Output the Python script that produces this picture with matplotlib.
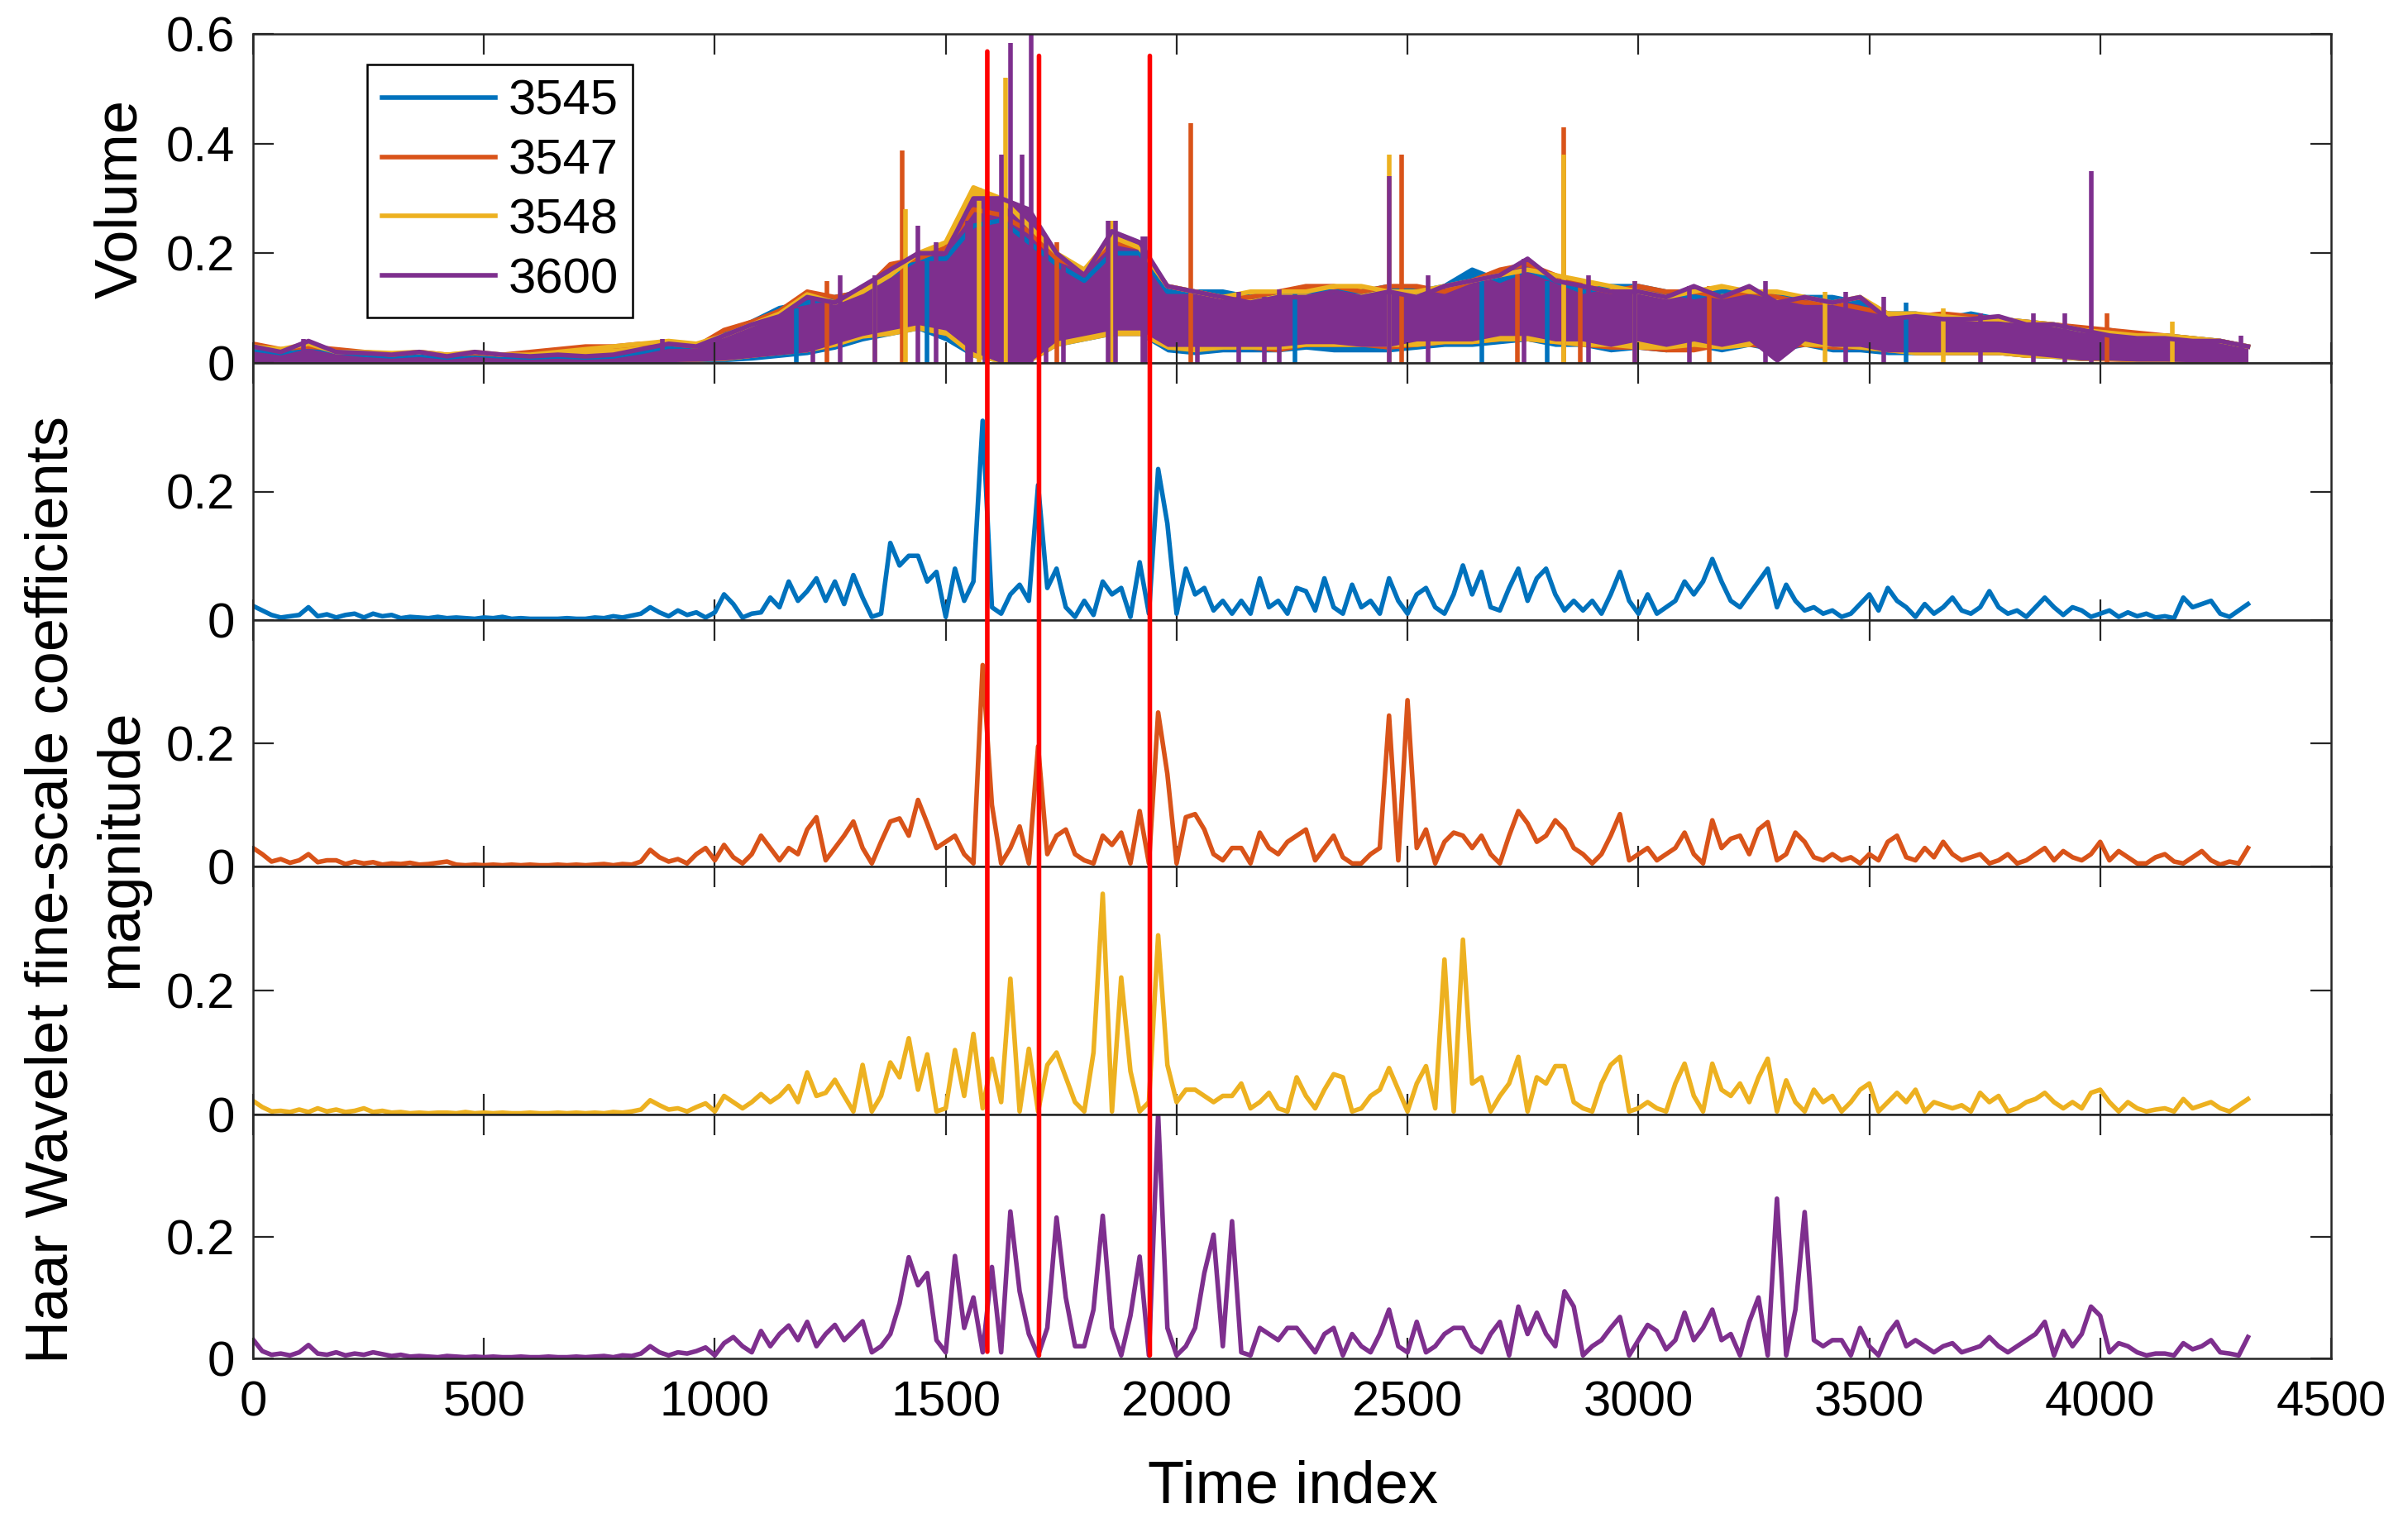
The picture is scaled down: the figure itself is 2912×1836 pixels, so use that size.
import numpy as np
import matplotlib
matplotlib.use("Agg")
from matplotlib import pyplot as plt
from matplotlib.patches import ConnectionPatch
from matplotlib.ticker import FormatStrFormatter

plt.rcParams['font.family'] = ['Liberation Sans', 'DejaVu Sans']

names = ['3545', '3547', '3548', '3600']
colors = ['#0072BD', '#D95319', '#EDB120', '#7E2F8E']

# ---- top panel: volume, upper / lower envelope every 60 time steps ----
vol_step = 60
vol_hi_3545 = [0.025, 0.018, 0.03, 0.02, 0.015, 0.012, 0.015, 0.01, 0.015, 0.012,
               0.01, 0.012, 0.01, 0.012, 0.02, 0.03, 0.03, 0.055, 0.075, 0.1,
               0.11, 0.12, 0.13, 0.16, 0.19, 0.19, 0.25, 0.26, 0.22, 0.18,
               0.15, 0.2, 0.2, 0.13, 0.13, 0.13, 0.12, 0.13, 0.13, 0.13,
               0.13, 0.14, 0.13, 0.14, 0.17, 0.15, 0.17, 0.15, 0.13, 0.14,
               0.14, 0.13, 0.12, 0.13, 0.13, 0.12, 0.12, 0.12, 0.11, 0.09,
               0.09, 0.08, 0.09, 0.08, 0.075, 0.07, 0.06, 0.06, 0.05, 0.05,
               0.045, 0.04, 0.03]
vol_lo_3545 = [0.0, 0.001, 0.001, 0.001, 0.001, 0.0, 0.0, 0.0, 0.0, 0.0,
               0.0, 0.0, 0.0, 0.0, 0.001, 0.001, 0.002, 0.002, 0.005, 0.01,
               0.015, 0.025, 0.04, 0.05, 0.06, 0.04, 0.01, 0.0, 0.0, 0.03,
               0.04, 0.05, 0.05, 0.02, 0.015, 0.02, 0.02, 0.02, 0.025, 0.02,
               0.02, 0.02, 0.025, 0.03, 0.03, 0.035, 0.04, 0.03, 0.03, 0.02,
               0.025, 0.02, 0.03, 0.02, 0.03, 0.02, 0.03, 0.02, 0.02, 0.015,
               0.015, 0.015, 0.015, 0.015, 0.01, 0.008, 0.004, 0.004, 0.002, 0.002,
               0.001, 0.001, 0.001]
vol_hi_3547 = [0.035, 0.025, 0.03, 0.025, 0.02, 0.015, 0.02, 0.015, 0.018, 0.015,
               0.02, 0.025, 0.03, 0.03, 0.035, 0.035, 0.03, 0.06, 0.075, 0.095,
               0.13, 0.12, 0.13, 0.18, 0.19, 0.21, 0.28, 0.27, 0.24, 0.19,
               0.17, 0.22, 0.21, 0.14, 0.13, 0.12, 0.12, 0.13, 0.14, 0.14,
               0.13, 0.14, 0.14, 0.13, 0.15, 0.17, 0.18, 0.16, 0.14, 0.13,
               0.14, 0.13, 0.13, 0.12, 0.13, 0.12, 0.11, 0.11, 0.1, 0.09,
               0.085, 0.09, 0.085, 0.08, 0.075, 0.07, 0.065, 0.06, 0.055, 0.05,
               0.045, 0.04, 0.03]
vol_lo_3547 = [0.0, 0.002, 0.002, 0.002, 0.002, 0.001, 0.001, 0.001, 0.001, 0.001,
               0.001, 0.001, 0.001, 0.002, 0.002, 0.002, 0.003, 0.005, 0.01, 0.02,
               0.02, 0.03, 0.05, 0.06, 0.07, 0.05, 0.02, 0.0, 0.0, 0.03,
               0.045, 0.05, 0.05, 0.03, 0.025, 0.025, 0.025, 0.02, 0.03, 0.03,
               0.03, 0.025, 0.03, 0.035, 0.035, 0.04, 0.04, 0.035, 0.03, 0.025,
               0.025, 0.02, 0.02, 0.03, 0.03, 0.025, 0.03, 0.025, 0.025, 0.02,
               0.015, 0.015, 0.015, 0.015, 0.01, 0.01, 0.004, 0.003, 0.002, 0.002,
               0.001, 0.001, 0.001]
vol_hi_3548 = [0.03, 0.025, 0.035, 0.02, 0.02, 0.018, 0.02, 0.015, 0.02, 0.015,
               0.015, 0.02, 0.025, 0.03, 0.035, 0.04, 0.035, 0.05, 0.07, 0.09,
               0.125, 0.11, 0.13, 0.16, 0.2, 0.22, 0.32, 0.3, 0.25, 0.2,
               0.17, 0.23, 0.21, 0.14, 0.13, 0.12, 0.13, 0.13, 0.13, 0.14,
               0.14, 0.13, 0.13, 0.14, 0.15, 0.16, 0.17, 0.16, 0.15, 0.14,
               0.13, 0.12, 0.13, 0.14, 0.13, 0.13, 0.12, 0.11, 0.12, 0.09,
               0.09, 0.085, 0.08, 0.08, 0.075, 0.07, 0.06, 0.055, 0.05, 0.05,
               0.045, 0.04, 0.03]
vol_lo_3548 = [0.0, 0.002, 0.002, 0.002, 0.002, 0.001, 0.001, 0.001, 0.001, 0.001,
               0.001, 0.001, 0.001, 0.002, 0.002, 0.002, 0.003, 0.004, 0.01, 0.015,
               0.02, 0.03, 0.045, 0.05, 0.06, 0.05, 0.01, 0.0, 0.0, 0.03,
               0.04, 0.05, 0.05, 0.025, 0.02, 0.025, 0.025, 0.025, 0.03, 0.03,
               0.03, 0.03, 0.03, 0.035, 0.035, 0.04, 0.04, 0.035, 0.03, 0.03,
               0.025, 0.025, 0.03, 0.025, 0.03, 0.06, 0.03, 0.03, 0.025, 0.02,
               0.015, 0.015, 0.015, 0.015, 0.01, 0.008, 0.004, 0.004, 0.002, 0.002,
               0.001, 0.001, 0.001]
vol_hi_3600 = [0.03, 0.02, 0.04, 0.02, 0.018, 0.015, 0.02, 0.012, 0.02, 0.015,
               0.012, 0.015, 0.012, 0.015, 0.025, 0.035, 0.03, 0.05, 0.07, 0.085,
               0.12, 0.11, 0.14, 0.17, 0.2, 0.2, 0.3, 0.3, 0.28, 0.2,
               0.16, 0.24, 0.22, 0.14, 0.13, 0.12, 0.11, 0.12, 0.12, 0.13,
               0.12, 0.13, 0.12, 0.14, 0.15, 0.16, 0.19, 0.15, 0.14, 0.13,
               0.13, 0.12, 0.14, 0.12, 0.14, 0.11, 0.12, 0.11, 0.12, 0.08,
               0.085, 0.08, 0.08, 0.085, 0.07, 0.07, 0.06, 0.05, 0.045, 0.045,
               0.04, 0.04, 0.03]
vol_lo_3600 = [0.0, 0.002, 0.002, 0.002, 0.002, 0.001, 0.001, 0.001, 0.001, 0.001,
               0.001, 0.001, 0.001, 0.001, 0.002, 0.002, 0.003, 0.005, 0.01, 0.015,
               0.02, 0.035, 0.05, 0.06, 0.07, 0.06, 0.02, 0.0, 0.0, 0.04,
               0.05, 0.06, 0.06, 0.03, 0.03, 0.03, 0.03, 0.03, 0.035, 0.035,
               0.03, 0.03, 0.04, 0.04, 0.04, 0.05, 0.05, 0.04, 0.04, 0.03,
               0.04, 0.03, 0.04, 0.03, 0.04, 0.0, 0.04, 0.03, 0.03, 0.02,
               0.02, 0.02, 0.02, 0.02, 0.015, 0.01, 0.005, 0.005, 0.003, 0.003,
               0.002, 0.002, 0.002]

# isolated volume spikes (time index, value)
spike_t_3545 = [1176, 1460, 1590, 2256, 2661, 2803, 3579]
spike_v_3545 = [0.1, 0.2, 0.25, 0.13, 0.16, 0.15, 0.11]
spike_t_3547 = [1243, 1406, 1741, 2030, 2488, 2738, 2838, 2874, 3154, 4015]
spike_v_3547 = [0.15, 0.388, 0.22, 0.437, 0.38, 0.17, 0.43, 0.15, 0.14, 0.09]
spike_t_3548 = [1347, 1413, 1572, 1629, 1859, 2460, 2838, 2992, 3404, 3660, 4157]
spike_v_3548 = [0.16, 0.28, 0.32, 0.52, 0.26, 0.38, 0.38, 0.15, 0.13, 0.1, 0.075]
spike_t_3600 = [110, 886, 1213, 1272, 1347, 1440, 1480, 1547, 1555, 1584, 1621, 1641,
                1666, 1685, 1718, 1755, 1852, 1867, 1926, 1933, 2045, 2134, 2190,
                2223, 2460, 2545, 2753, 2892, 2992, 3111, 3275, 3448, 3532, 3741,
                3856, 3923, 3980, 4304]
spike_v_3600 = [0.044, 0.044, 0.12, 0.16, 0.16, 0.25, 0.22, 0.26, 0.26, 0.3, 0.38, 0.584,
                0.38, 0.6, 0.23, 0.18, 0.26, 0.26, 0.23, 0.23, 0.115, 0.13, 0.12,
                0.134, 0.34, 0.16, 0.19, 0.16, 0.15, 0.14, 0.15, 0.13, 0.12, 0.09,
                0.09, 0.09, 0.35, 0.05]

# ---- Haar wavelet fine-scale coefficient magnitude, every 20 time steps ----
wav_step = 20
wav_3545 = [0.022, 0.015, 0.008, 0.004, 0.006, 0.008, 0.02, 0.006, 0.009, 0.004,      # 0
            0.008, 0.01, 0.004, 0.01, 0.006, 0.008, 0.003, 0.005, 0.004, 0.003,       # 200
            0.005, 0.003, 0.004, 0.003, 0.002, 0.004, 0.003, 0.005, 0.002, 0.003,     # 400
            0.002, 0.002, 0.002, 0.002, 0.003, 0.002, 0.002, 0.004, 0.003, 0.006,     # 600
            0.004, 0.007, 0.01, 0.02, 0.012, 0.006, 0.015, 0.008, 0.012, 0.004,       # 800
            0.012, 0.04, 0.025, 0.004, 0.01, 0.012, 0.035, 0.02, 0.06, 0.03,          # 1000
            0.045, 0.065, 0.03, 0.06, 0.025, 0.07, 0.035, 0.005, 0.01, 0.12,          # 1200
            0.085, 0.1, 0.1, 0.06, 0.075, 0.005, 0.08, 0.03, 0.06, 0.31,              # 1400
            0.02, 0.01, 0.04, 0.055, 0.03, 0.21, 0.05, 0.08, 0.02, 0.005,             # 1600
            0.03, 0.008, 0.06, 0.04, 0.05, 0.005, 0.09, 0.01, 0.235, 0.15,            # 1800
            0.01, 0.08, 0.04, 0.05, 0.015, 0.03, 0.01, 0.03, 0.01, 0.065,             # 2000
            0.02, 0.03, 0.01, 0.05, 0.045, 0.015, 0.065, 0.02, 0.01, 0.055,           # 2200
            0.02, 0.03, 0.01, 0.065, 0.03, 0.01, 0.04, 0.05, 0.02, 0.01,              # 2400
            0.04, 0.085, 0.04, 0.075, 0.02, 0.015, 0.05, 0.08, 0.03, 0.065,           # 2600
            0.08, 0.04, 0.015, 0.03, 0.015, 0.03, 0.01, 0.04, 0.075, 0.03,            # 2800
            0.01, 0.04, 0.01, 0.02, 0.03, 0.06, 0.04, 0.06, 0.095, 0.06,              # 3000
            0.03, 0.02, 0.04, 0.06, 0.08, 0.02, 0.055, 0.03, 0.015, 0.02,             # 3200
            0.01, 0.015, 0.005, 0.01, 0.025, 0.04, 0.015, 0.05, 0.03, 0.02,           # 3400
            0.005, 0.025, 0.01, 0.02, 0.035, 0.015, 0.01, 0.02, 0.045, 0.02,          # 3600
            0.01, 0.015, 0.005, 0.02, 0.035, 0.02, 0.008, 0.02, 0.015, 0.005,         # 3800
            0.01, 0.015, 0.005, 0.012, 0.006, 0.01, 0.004, 0.006, 0.003, 0.035,       # 4000
            0.02, 0.025, 0.03, 0.01, 0.005, 0.015, 0.025]                             # 4200
wav_3547 = [0.03, 0.02, 0.008, 0.012, 0.006, 0.01, 0.02, 0.007, 0.01, 0.01,
            0.004, 0.008, 0.005, 0.007, 0.003, 0.005, 0.004, 0.006, 0.003, 0.004,
            0.006, 0.008, 0.003, 0.002, 0.003, 0.002, 0.003, 0.002, 0.003, 0.002,
            0.003, 0.002, 0.002, 0.003, 0.002, 0.003, 0.002, 0.003, 0.004, 0.002,
            0.004, 0.003, 0.008, 0.027, 0.015, 0.008, 0.012, 0.005, 0.02, 0.03,
            0.01, 0.035, 0.015, 0.005, 0.02, 0.05, 0.03, 0.01, 0.03, 0.02,
            0.06, 0.08, 0.01, 0.03, 0.05, 0.073, 0.03, 0.005, 0.04, 0.073,
            0.078, 0.05, 0.108, 0.07, 0.03, 0.04, 0.05, 0.02, 0.005, 0.327,
            0.1, 0.005, 0.03, 0.065, 0.005, 0.195, 0.02, 0.05, 0.06, 0.02,
            0.01, 0.005, 0.05, 0.035, 0.055, 0.005, 0.09, 0.005, 0.25, 0.15,
            0.005, 0.08, 0.085, 0.06, 0.02, 0.01, 0.03, 0.03, 0.005, 0.055,
            0.03, 0.02, 0.04, 0.05, 0.06, 0.01, 0.03, 0.05, 0.015, 0.005,
            0.005, 0.02, 0.03, 0.245, 0.01, 0.27, 0.03, 0.06, 0.005, 0.04,
            0.055, 0.05, 0.03, 0.05, 0.02, 0.005, 0.05, 0.09, 0.07, 0.04,
            0.05, 0.075, 0.06, 0.03, 0.02, 0.005, 0.02, 0.05, 0.085, 0.01,
            0.02, 0.03, 0.01, 0.02, 0.03, 0.055, 0.02, 0.005, 0.075, 0.03,
            0.045, 0.05, 0.02, 0.06, 0.072, 0.01, 0.02, 0.055, 0.04, 0.015,
            0.01, 0.02, 0.01, 0.015, 0.005, 0.02, 0.01, 0.04, 0.05, 0.015,
            0.01, 0.03, 0.015, 0.04, 0.02, 0.01, 0.015, 0.02, 0.005, 0.01,
            0.02, 0.005, 0.01, 0.02, 0.03, 0.01, 0.025, 0.015, 0.01, 0.02,
            0.04, 0.01, 0.025, 0.015, 0.005, 0.005, 0.015, 0.02, 0.008, 0.005,
            0.015, 0.025, 0.01, 0.003, 0.008, 0.005, 0.03]
wav_3548 = [0.022, 0.012, 0.005, 0.006, 0.004, 0.008, 0.004, 0.01, 0.005, 0.008,
            0.004, 0.006, 0.01, 0.004, 0.006, 0.003, 0.004, 0.002, 0.003, 0.002,
            0.003, 0.003, 0.002, 0.004, 0.002, 0.003, 0.002, 0.003, 0.002, 0.002,
            0.003, 0.002, 0.002, 0.003, 0.002, 0.003, 0.002, 0.003, 0.002, 0.004,
            0.003, 0.005, 0.008, 0.023, 0.015, 0.008, 0.01, 0.005, 0.012, 0.018,
            0.005, 0.03, 0.02, 0.01, 0.02, 0.033, 0.02, 0.03, 0.046, 0.02,
            0.068, 0.03, 0.035, 0.056, 0.03, 0.005, 0.08, 0.005, 0.03, 0.084,
            0.06, 0.123, 0.04, 0.097, 0.005, 0.01, 0.104, 0.03, 0.13, 0.01,
            0.09, 0.02, 0.219, 0.005, 0.106, 0.005, 0.08, 0.1, 0.06, 0.02,
            0.005, 0.1, 0.356, 0.005, 0.221, 0.07, 0.005, 0.02, 0.289, 0.08,
            0.02, 0.04, 0.04, 0.03, 0.02, 0.03, 0.03, 0.05, 0.01, 0.02,
            0.035, 0.01, 0.005, 0.06, 0.03, 0.01, 0.04, 0.065, 0.06, 0.005,
            0.01, 0.03, 0.04, 0.075, 0.04, 0.005, 0.05, 0.078, 0.01, 0.25,
            0.005, 0.282, 0.05, 0.06, 0.005, 0.03, 0.05, 0.093, 0.005, 0.06,
            0.05, 0.078, 0.078, 0.02, 0.01, 0.005, 0.05, 0.08, 0.093, 0.005,
            0.01, 0.02, 0.01, 0.005, 0.05, 0.082, 0.03, 0.005, 0.082, 0.04,
            0.03, 0.05, 0.02, 0.06, 0.09, 0.005, 0.055, 0.02, 0.005, 0.04,
            0.02, 0.03, 0.005, 0.02, 0.04, 0.05, 0.005, 0.02, 0.035, 0.02,
            0.04, 0.005, 0.02, 0.015, 0.01, 0.015, 0.005, 0.035, 0.02, 0.03,
            0.005, 0.01, 0.02, 0.025, 0.035, 0.02, 0.01, 0.02, 0.01, 0.035,
            0.04, 0.02, 0.005, 0.02, 0.01, 0.005, 0.008, 0.01, 0.005, 0.025,
            0.01, 0.015, 0.02, 0.01, 0.005, 0.015, 0.025]
wav_3600 = [0.031, 0.012, 0.006, 0.008, 0.005, 0.01, 0.022, 0.008, 0.006, 0.01,
            0.005, 0.008, 0.006, 0.01, 0.007, 0.004, 0.006, 0.003, 0.004, 0.003,
            0.002, 0.004, 0.003, 0.002, 0.003, 0.002, 0.003, 0.002, 0.002, 0.003,
            0.002, 0.002, 0.003, 0.002, 0.002, 0.003, 0.002, 0.003, 0.004, 0.002,
            0.005, 0.004, 0.008, 0.02, 0.01, 0.005, 0.01, 0.008, 0.012, 0.018,
            0.005, 0.025, 0.035, 0.02, 0.01, 0.045, 0.02, 0.04, 0.054, 0.03,
            0.06, 0.02, 0.04, 0.055, 0.03, 0.045, 0.061, 0.01, 0.02, 0.04,
            0.09, 0.166, 0.12, 0.14, 0.03, 0.01, 0.168, 0.05, 0.1, 0.01,
            0.15, 0.01, 0.241, 0.11, 0.04, 0.005, 0.05, 0.231, 0.1, 0.02,
            0.02, 0.08, 0.234, 0.05, 0.005, 0.07, 0.167, 0.005, 0.4, 0.05,
            0.005, 0.02, 0.05, 0.14, 0.203, 0.02, 0.225, 0.01, 0.005, 0.05,
            0.04, 0.03, 0.05, 0.05, 0.03, 0.01, 0.04, 0.05, 0.005, 0.04,
            0.02, 0.01, 0.04, 0.08, 0.02, 0.01, 0.06, 0.01, 0.02, 0.04,
            0.05, 0.05, 0.02, 0.01, 0.04, 0.06, 0.005, 0.085, 0.04, 0.075,
            0.04, 0.02, 0.11, 0.085, 0.005, 0.02, 0.03, 0.05, 0.068, 0.005,
            0.03, 0.055, 0.045, 0.015, 0.03, 0.075, 0.03, 0.05, 0.08, 0.03,
            0.04, 0.005, 0.06, 0.1, 0.005, 0.262, 0.005, 0.08, 0.24, 0.03,
            0.02, 0.03, 0.03, 0.005, 0.05, 0.02, 0.005, 0.04, 0.06, 0.02,
            0.03, 0.02, 0.01, 0.02, 0.025, 0.01, 0.015, 0.02, 0.035, 0.02,
            0.01, 0.02, 0.03, 0.04, 0.06, 0.005, 0.045, 0.02, 0.04, 0.085,
            0.07, 0.01, 0.025, 0.02, 0.01, 0.005, 0.008, 0.008, 0.005, 0.025,
            0.015, 0.02, 0.03, 0.01, 0.008, 0.005, 0.035]

# red markers across all panels
red_t = [1590, 1702, 1942]
red_top = [0.568, 0.56, 0.56]
red_bottom = [0.011, 0.005, 0.005]

W, H = 2912, 1836
fig = plt.figure(figsize=(W / 200, H / 200), dpi=200)

x_left, x_right = 306, 2819
edges = [41, 439, 750, 1048, 1348, 1643]
frame_col = '#262626'
lw_data = 2.0

axes = []
for i in range(5):
	top, bot = edges[i], edges[i + 1]
	ax = fig.add_axes([x_left / W, 1 - bot / H, (x_right - x_left) / W, (bot - top) / H])
	ax.set_xlim(0, 4500)
	ax.set_xticks(np.arange(0, 4501, 500))
	ax.xaxis.set_major_formatter(FormatStrFormatter('%g'))
	ax.yaxis.set_major_formatter(FormatStrFormatter('%g'))
	ax.tick_params(direction='in', top=True, right=True, length=9, width=0.8,
				   labelsize=21.5, colors=frame_col, labelcolor='black')
	ax.tick_params(axis='x', pad=9.5)
	ax.tick_params(axis='y', pad=8)
	for s in ax.spines.values():
		s.set_linewidth(0.9)
		s.set_color(frame_col)
	if i < 4:
		ax.tick_params(labelbottom=False)
	axes.append(ax)

# top panel
ax = axes[0]
ax.set_ylim(0, 0.6)
ax.set_yticks([0, 0.2, 0.4, 0.6])
vol_hi = [vol_hi_3545, vol_hi_3547, vol_hi_3548, vol_hi_3600]
vol_lo = [vol_lo_3545, vol_lo_3547, vol_lo_3548, vol_lo_3600]
spike_t = [spike_t_3545, spike_t_3547, spike_t_3548, spike_t_3600]
spike_v = [spike_v_3545, spike_v_3547, spike_v_3548, spike_v_3600]
for name, c, hi, lo, st, sv in zip(names, colors, vol_hi, vol_lo, spike_t, spike_v):
	t = vol_step * np.arange(len(hi))
	ax.fill_between(t, lo, hi, color=c, lw=0)
	ax.plot(t, hi, color=c, lw=lw_data, label=name)
	ax.vlines(st, 0, sv, color=c, lw=lw_data)

leg = ax.legend(loc='upper left', bbox_to_anchor=((444 - 306) / 2513, (439 - 78) / 398),
				fontsize=21.5, frameon=True, fancybox=False, framealpha=1, edgecolor='black',
				handlelength=2.3, handletextpad=0.25, labelspacing=0.28, borderpad=0.3,
				borderaxespad=0)
leg.get_frame().set_linewidth(0.9)

# wavelet panels
wav = [wav_3545, wav_3547, wav_3548, wav_3600]
for ax, c, w in zip(axes[1:], colors, wav):
	t = wav_step * np.arange(len(w))
	ax.plot(t, w, color=c, lw=lw_data)
	ax.set_ylim(0, 0.4)
	ax.set_yticks([0, 0.2])

for t, yt, yb in zip(red_t, red_top, red_bottom):
	con = ConnectionPatch(xyA=(t, yt), coordsA=axes[0].transData,
						  xyB=(t, yb), coordsB=axes[4].transData,
						  color='red', lw=2.0)
	fig.add_artist(con)

fig.text(165 / W, 1 - 240 / H, 'Volume', rotation=90, rotation_mode='anchor',
		 ha='center', va='baseline', fontsize=26)
fig.text(82 / W, 1 - 1076 / H, 'Haar Wavelet fine-scale coefficients', rotation=90,
		 rotation_mode='anchor', ha='center', va='baseline', fontsize=26)
fig.text(165 / W, 1 - 1026 / H, 'magnitude', rotation=90, rotation_mode='anchor',
		 ha='center', va='baseline', fontsize=26)
fig.text(1563 / W, 1 - 1818 / H, 'Time index', ha='center', va='baseline', fontsize=26)

fig.savefig('out.png', dpi=200)
